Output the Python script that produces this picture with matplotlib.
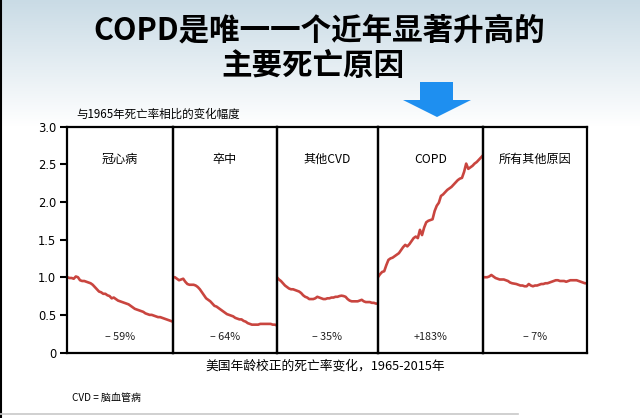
import numpy as np
import matplotlib
matplotlib.use("Agg")
import matplotlib.pyplot as plt
from matplotlib.patches import Polygon

plt.rcParams['font.family'] = ['Noto Sans CJK SC', 'DejaVu Sans']

years = list(range(1965, 2016))

chd = [1.00, 0.99, 0.99, 0.98, 1.01, 1.00, 0.96, 0.95, 0.95, 0.94, 0.93, 0.92, 0.90, 0.87, 0.84,
       0.81, 0.80, 0.78, 0.78, 0.76, 0.75, 0.72, 0.73, 0.71, 0.69, 0.68, 0.67, 0.66, 0.65, 0.64,
       0.62, 0.60, 0.58, 0.57, 0.56, 0.55, 0.54, 0.52, 0.51, 0.50, 0.50, 0.49, 0.48, 0.47, 0.47,
       0.46, 0.45, 0.44, 0.43, 0.42, 0.41]
stroke = [1.00, 1.00, 0.98, 0.96, 0.97, 0.98, 0.94, 0.91, 0.90, 0.90, 0.90, 0.89, 0.87, 0.84, 0.80,
          0.76, 0.72, 0.70, 0.68, 0.65, 0.62, 0.61, 0.59, 0.57, 0.55, 0.53, 0.51, 0.50, 0.49, 0.48,
          0.46, 0.45, 0.44, 0.44, 0.42, 0.41, 0.39, 0.38, 0.37, 0.37, 0.37, 0.37, 0.38, 0.38, 0.38,
          0.38, 0.38, 0.38, 0.37, 0.37, 0.36]
other_cvd = [1.00, 0.97, 0.95, 0.92, 0.89, 0.87, 0.85, 0.84, 0.84, 0.83, 0.82, 0.81, 0.79, 0.76, 0.74,
             0.73, 0.71, 0.71, 0.71, 0.72, 0.74, 0.73, 0.72, 0.71, 0.71, 0.72, 0.72, 0.73, 0.73, 0.74,
             0.74, 0.75, 0.755, 0.75, 0.74, 0.71, 0.69, 0.68, 0.68, 0.68, 0.68, 0.69, 0.70, 0.68, 0.67,
             0.67, 0.67, 0.66, 0.66, 0.65, 0.65]
copd = [1.00, 1.04, 1.07, 1.08, 1.16, 1.23, 1.25, 1.26, 1.28, 1.30, 1.32, 1.36, 1.40, 1.43, 1.41,
        1.44, 1.48, 1.52, 1.54, 1.52, 1.63, 1.56, 1.66, 1.73, 1.75, 1.76, 1.77, 1.88, 1.95, 1.99,
        2.08, 2.10, 2.13, 2.16, 2.18, 2.20, 2.23, 2.26, 2.29, 2.31, 2.32, 2.40, 2.51, 2.44, 2.46,
        2.48, 2.51, 2.53, 2.56, 2.59, 2.62]
all_other = [1.00, 1.00, 1.00, 1.01, 1.03, 1.01, 0.99, 0.98, 0.97, 0.97, 0.97, 0.96, 0.95, 0.93, 0.92,
             0.915, 0.91, 0.90, 0.89, 0.89, 0.88, 0.88, 0.91, 0.89, 0.88, 0.89, 0.89, 0.90, 0.91, 0.91,
             0.92, 0.92, 0.93, 0.94, 0.95, 0.96, 0.96, 0.95, 0.95, 0.95, 0.94, 0.95, 0.96, 0.96, 0.96,
             0.96, 0.95, 0.94, 0.93, 0.92, 0.92]

series = [chd, stroke, other_cvd, copd, all_other]
panel_titles = ["冠心病", "卒中", "其他CVD", "COPD", "所有其他原因"]
change_labels = ["– 59%", "– 64%", "– 35%", "+183%", "– 7%"]
yticks = [0, 0.5, 1.0, 1.5, 2.0, 2.5, 3.0]
ytick_labels = ["0", "0.5", "1.0", "1.5", "2.0", "2.5", "3.0"]

W, H = 640, 418
fig = plt.figure(figsize=(W / 100, H / 100), dpi=100)

# background gradient
bg = fig.add_axes([0, 0, 1, 1], zorder=-10)
bg.set_axis_off()
ny = 200
grad = np.ones((ny, 1, 3))
top = np.array([0.79, 0.86, 0.90])
for i in range(ny):
    yy = i / ny * H
    t = min(1.0, yy / 125.0)
    grad[i, 0, :] = top * (1 - t) + np.array([1, 1, 1]) * t
bg.imshow(grad, aspect='auto', extent=[0, 1, 0, 1], origin='upper')
bg.set_xlim(0, 1)
bg.set_ylim(0, 1)
bg.plot([0.002, 0.002], [0, 1], color='black', lw=1.5, transform=bg.transAxes)
bg.plot([0, 518 / W], [1 - 414 / H, 1 - 414 / H], color='#c8c8c8', lw=1.2, transform=bg.transAxes)

# arrow
arrow_px = [(420, 82), (453, 82), (453, 100), (471, 100), (437, 117), (403, 100), (420, 100)]
arrow = Polygon([(x / W, 1 - y / H) for x, y in arrow_px], closed=True,
                facecolor='#1e8ff0', edgecolor='none', transform=fig.transFigure)
fig.patches.append(arrow)

# titles
title_font = ['Noto Sans CJK SC', 'DejaVu Sans']
fig.text(319 / W, 1 - 30 / H, "COPD是唯一一个近年显著升高的", ha='center', va='center',
         fontsize=22, fontweight='bold', family=title_font)
fig.text(313 / W, 1 - 66 / H, "主要死亡原因", ha='center', va='center',
         fontsize=22, fontweight='bold', family=title_font)

bounds = [67.4, 172.8, 276.9, 377.9, 483.0, 587.0]
top_px, bot_px = 126.7, 352.5
line_color = '#c9453f'
for i in range(5):
    x0 = bounds[i] / W
    w = (bounds[i + 1] - bounds[i]) / W
    ax = fig.add_axes([x0, 1 - bot_px / H, w, (bot_px - top_px) / H])
    ax.plot(years, series[i], color=line_color, lw=1.9, solid_joinstyle='round')
    ax.set_xlim(1965, 2015)
    ax.set_ylim(0, 3)
    ax.set_xticks([])
    for s in ax.spines.values():
        s.set_linewidth(1.6)
        s.set_color('black')
    ax.text(0.5, 2.57, panel_titles[i], transform=ax.get_yaxis_transform(),
            ha='center', va='center', fontsize=8.7)
    ax.text(0.5, 0.2, change_labels[i], transform=ax.get_yaxis_transform(),
            ha='center', va='center', fontsize=7.8, color='#222222')
    if i == 0:
        ax.set_yticks(yticks)
        ax.set_yticklabels(ytick_labels, family=['DejaVu Sans'])
        ax.tick_params(axis='y', direction='out', length=5, width=1.5, labelsize=8.3, pad=3)
    else:
        ax.set_yticks([])
    ax.patch.set_alpha(0)

fig.text(76 / W, 1 - 114 / H, "与1965年死亡率相比的变化幅度", ha='left', va='center', fontsize=8.3)
fig.text(325 / W, 1 - 366 / H, "美国年龄校正的死亡率变化，1965-2015年", ha='center', va='center', fontsize=9.2)
fig.text(72 / W, 1 - 398 / H, "CVD = 脑血管病", ha='left', va='center', fontsize=7.2)

fig.savefig("out.png", dpi=100)
